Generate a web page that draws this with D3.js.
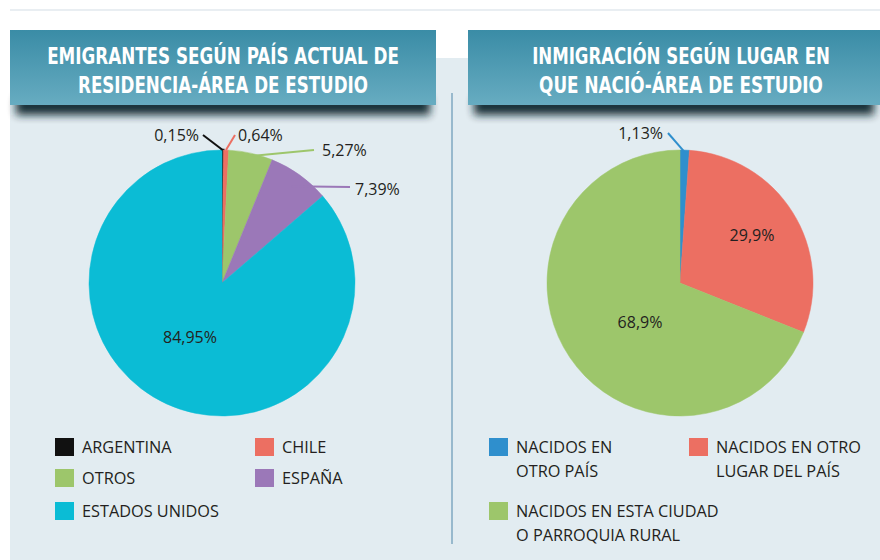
<!DOCTYPE html>
<html>
<head>
<meta charset="utf-8">
<script src="https://cdn.jsdelivr.net/npm/d3@7"></script>
<style>
  html, body { margin: 0; padding: 0; background: #ffffff; }
  svg { display: block; }
  .ttl { font-family: "Liberation Sans Narrow", "DejaVu Sans Condensed", "Roboto", sans-serif; font-weight: bold; fill: #ffffff; }
  .lbl { font-family: "Open Sans", "Noto Sans", sans-serif; fill: #231f20; }
</style>
</head>
<body>
<svg id="chart" width="880" height="560"></svg>
<script>
// ---- data ----
const emigCategories = ["ARGENTINA", "CHILE", "OTROS", "ESPAÑA", "ESTADOS UNIDOS"];
const emigValues = [0.15, 0.64, 5.27, 7.39, 84.95];
const emigLabels = ["0,15%", "0,64%", "5,27%", "7,39%", "84,95%"];
const emigColors = ["#111111", "#ec6f62", "#9dc66b", "#9b78b8", "#0bbcd5"];

const inmigCategories = ["NACIDOS EN OTRO PAÍS", "NACIDOS EN OTRO LUGAR DEL PAÍS", "NACIDOS EN ESTA CIUDAD O PARROQUIA RURAL"];
const inmigValues = [1.13, 29.9, 68.9];
const inmigLabels = ["1,13%", "29,9%", "68,9%"];
const inmigColors = ["#2f8fcd", "#ec6f62", "#9dc66b"];

const titleLeft = ["EMIGRANTES SEGÚN PAÍS ACTUAL DE", "RESIDENCIA-ÁREA DE ESTUDIO"];
const titleRight = ["INMIGRACIÓN SEGÚN LUGAR EN", "QUE NACIÓ-ÁREA DE ESTUDIO"];

// legend entries (text split into display lines)
const emigLegend = [
  { cat: "ARGENTINA", lines: ["ARGENTINA"] },
  { cat: "CHILE", lines: ["CHILE"] },
  { cat: "OTROS", lines: ["OTROS"] },
  { cat: "ESPAÑA", lines: ["ESPAÑA"] },
  { cat: "ESTADOS UNIDOS", lines: ["ESTADOS UNIDOS"] }
];
const inmigLegend = [
  { cat: "NACIDOS EN OTRO PAÍS", lines: ["NACIDOS EN", "OTRO PAÍS"] },
  { cat: "NACIDOS EN OTRO LUGAR DEL PAÍS", lines: ["NACIDOS EN OTRO", "LUGAR DEL PAÍS"] },
  { cat: "NACIDOS EN ESTA CIUDAD O PARROQUIA RURAL", lines: ["NACIDOS EN ESTA CIUDAD", "O PARROQUIA RURAL"] }
];

// ---- layout ----
const svg = d3.select("#chart");
const defs = svg.append("defs");

const grad = defs.append("linearGradient").attr("id", "bannerGrad")
  .attr("x1", 0).attr("y1", 0).attr("x2", 0).attr("y2", 1);
grad.append("stop").attr("offset", "0%").attr("stop-color", "#3a8ca6");
grad.append("stop").attr("offset", "100%").attr("stop-color", "#67acc1");

const blur = defs.append("filter").attr("id", "shadowBlur")
  .attr("x", "-10%").attr("y", "-50%").attr("width", "120%").attr("height", "200%");
blur.append("feGaussianBlur").attr("stdDeviation", 4);

// page background pieces
svg.append("rect").attr("x", 0).attr("y", 0).attr("width", 880).attr("height", 560).attr("fill", "#ffffff");
svg.append("rect").attr("x", 10).attr("y", 9).attr("width", 870).attr("height", 2).attr("fill", "#e9eef2");
svg.append("rect").attr("x", 10).attr("y", 58).attr("width", 870).attr("height", 502).attr("fill", "#e2ecf1");

// divider
svg.append("line").attr("x1", 452).attr("x2", 452).attr("y1", 93).attr("y2", 544)
  .attr("stroke", "#7fa9c0").attr("stroke-width", 1.5);

// header banner with a soft shadow; each title line is squeezed horizontally to its width
function banner(x, w, lines, widths, cx) {
  const g = svg.append("g");
  g.append("rect").attr("x", x + 6).attr("y", 97).attr("width", w - 12).attr("height", 18)
    .attr("fill", "#10262f").attr("opacity", 0.95).attr("filter", "url(#shadowBlur)");
  g.append("rect").attr("x", x).attr("y", 30).attr("width", w).attr("height", 75)
    .attr("fill", "url(#bannerGrad)");
  lines.forEach((t, i) => {
    const tg = g.append("g");
    const txt = tg.append("text").attr("class", "ttl")
      .attr("x", 0).attr("y", 0)
      .attr("text-anchor", "middle")
      .attr("font-size", 22.5)
      .text(t);
    const natural = txt.node().getComputedTextLength();
    const sx = Math.min(1, widths[i] / natural);
    tg.attr("transform", `translate(${cx},${63.5 + i * 29}) scale(${sx},1)`);
  });
}
banner(10, 426, titleLeft, [352, 290], 223);
banner(468, 412, titleRight, [298, 284], 681);

// ---- pies ----
const R = 133;
const pie = d3.pie().sort(null).value(d => d);
const arc = d3.arc().innerRadius(0).outerRadius(R);

function drawPie(cx, cy, cats, values, colors) {
  const color = d3.scaleOrdinal().domain(cats).range(colors);
  const g = svg.append("g").attr("transform", `translate(${cx},${cy})`);
  const arcs = pie(values);
  g.selectAll("path").data(arcs).enter().append("path")
    .attr("d", arc)
    .attr("fill", (d, i) => color(cats[i]))
    .attr("stroke", (d, i) => color(cats[i]))
    .attr("stroke-width", (d, i) => (d.endAngle - d.startAngle) < 0.02 ? 2.5 : 0.5);
  return { g, arcs, color };
}

// labels: leader from a point on the slice at radius rs to an end offset, text beside it
function leaderLabel(p, d, col, rs, end, text, anchor, textPos) {
  const a = (d.startAngle + d.endAngle) / 2;
  const sx = Math.sin(a) * rs, sy = -Math.cos(a) * rs;
  p.g.append("line").attr("x1", sx).attr("y1", sy).attr("x2", end[0]).attr("y2", end[1])
    .attr("stroke", col).attr("stroke-width", 2);
  p.g.append("text").attr("class", "lbl").attr("font-size", 16)
    .attr("x", textPos[0]).attr("y", textPos[1]).attr("text-anchor", anchor).text(text);
}

const left = drawPie(222, 283, emigCategories, emigValues, emigColors);
leaderLabel(left, left.arcs[0], left.color(emigCategories[0]), R, [-19, -148], emigLabels[0], "end", [-23, -142]);
leaderLabel(left, left.arcs[1], left.color(emigCategories[1]), R, [13, -148], emigLabels[1], "start", [16, -142]);
leaderLabel(left, left.arcs[2], left.color(emigCategories[2]), R - 3, [92, -133], emigLabels[2], "start", [100, -127]);
leaderLabel(left, left.arcs[3], left.color(emigCategories[3]), R - 14, [128, -96], emigLabels[3], "start", [133, -88]);
left.g.append("text").attr("class", "lbl").attr("font-size", 16)
  .attr("x", -32).attr("y", 60).attr("text-anchor", "middle").text(emigLabels[4]);

const right = drawPie(680, 283, inmigCategories, inmigValues, inmigColors);
leaderLabel(right, right.arcs[0], right.color(inmigCategories[0]), R - 2, [-12, -150], inmigLabels[0], "end", [-17, -144]);
right.g.append("text").attr("class", "lbl").attr("font-size", 16)
  .attr("x", 72).attr("y", -42).attr("text-anchor", "middle").text(inmigLabels[1]);
right.g.append("text").attr("class", "lbl").attr("font-size", 16)
  .attr("x", -40).attr("y", 45).attr("text-anchor", "middle").text(inmigLabels[2]);

// ---- legends ----
function legend(items, color, positions, sq) {
  items.forEach((it, i) => {
    const [x, y] = positions[i];
    svg.append("rect").attr("x", x).attr("y", y).attr("width", sq[0]).attr("height", sq[1])
      .attr("fill", color(it.cat));
    it.lines.forEach((ln, j) => {
      svg.append("text").attr("class", "lbl").attr("font-size", 16.3)
        .attr("x", x + sq[0] + 8).attr("y", y + 15 + j * 24).text(ln);
    });
  });
}
legend(emigLegend, left.color, [[55, 438], [255, 438], [55, 469], [255, 469], [55, 502]], [19, 18]);
legend(inmigLegend, right.color, [[489, 438], [689, 438], [489, 502]], [19, 18]);
</script>
</body>
</html>
